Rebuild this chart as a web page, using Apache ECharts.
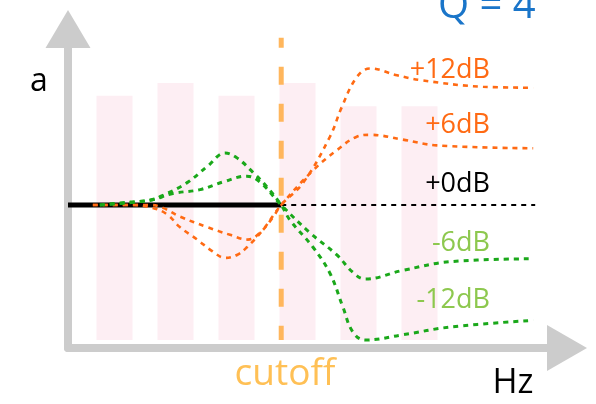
<!DOCTYPE html>
<html lang="en">
<head>
  <meta charset="UTF-8">
  <title>Q = 4 filter response</title>
  <script src="https://cdn.jsdelivr.net/npm/echarts@6/dist/echarts.min.js"></script>
  <style>
    html, body { margin: 0; padding: 0; background: #fff; }
    #main { width: 596px; height: 404px; }
  </style>
</head>
<body>
  <div id="main"></div>
<script>
  // background bands (decorative)
  let bandCats = ['b1', 'b2', 'b3', 'b4', 'b5', 'b6']
  let bandValues = [9.5, 10, 9.5, 10, 9.1, 9.1]

  // x: relative frequency (0..100), y: gain in dB
  let cutoff = 42.9
  let flatPass = [[0, 0], [42.9, 0]]
  let flatStop = [[42.9, 0], [94, 0]]
  let boost12 = [[5, 0], [13, 0], [17, -0.3], [20, -1.0], [22.5, -2.3], [26, -3.6], [29, -4.8], [31.6, -5.5],
    [34, -5.2], [36, -4.4], [39.2, -2.6], [42.9, 0], [47.3, 2.3], [52.7, 7.1], [55.1, 10.2], [58.1, 13.3],
    [60.8, 14.2], [66.2, 13.5], [70.8, 13.0], [83.5, 12.3], [93.6, 12.2]]
  let boost6 = [[5, 0], [16.5, 0], [19.1, -0.3], [22.5, -1.2], [28, -2.3], [32.6, -3.1], [36.2, -3.6],
    [38.6, -2.9], [41.2, -1.3], [42.9, 0], [49.3, 3.6], [54.1, 5.7], [58.1, 7.1], [60.8, 7.3], [67.4, 6.8],
    [74.2, 6.2], [93.6, 5.9]]
  let cut6 = [[6.4, 0], [16.5, 0.5], [21.1, 1.2], [26.6, 1.6], [31.2, 2.4], [36, 3.0], [38.6, 2.4], [42.9, 0],
    [48.7, -2.9], [54.1, -5.2], [57.3, -7.0], [59.8, -7.7], [67.4, -6.8], [76.9, -5.9], [93.6, -5.6]]
  let cut12 = [[6.4, 0], [12.5, 0.3], [16.5, 0.5], [19.1, 1.0], [23.9, 2.3], [28, 4.0], [31.6, 5.4], [34, 4.9],
    [37.2, 3.4], [40, 1.9], [42.9, 0], [44.7, -1.6], [49.3, -4.4], [52.7, -7.1], [55.3, -10.6], [57.3, -13.2],
    [59.8, -14.05], [67.4, -13.5], [76.9, -12.7], [93.6, -12.0]]
  let cutoffLine = [[cutoff, 17.4], [cutoff, -14.05]]

  let gainLabels = ['+12dB', '+6dB', '+0dB', '-6dB', '-12dB']

  initChart()

  function initChart() {
    let myChart = echarts.init(document.getElementById('main'))
    let font = '"Open Sans", "Noto Sans", sans-serif'
    let orange = '#ff6a13'
    let green = '#1aa81a'
    let lightGreen = '#8dc84e'

    function curve(data, color, width) {
      return {
        type: 'line', xAxisIndex: 0, yAxisIndex: 0, data: data, smooth: 0.4,
        symbol: 'none', z: 5, silent: true,
        lineStyle: { color: color, width: width, type: [5, 5] }
      }
    }

    function label(text, x, y, color) {
      return {
        type: 'text', x: x, y: y, z: 20,
        style: { text: text, fill: color, font: '27px ' + font, textAlign: 'right', textVerticalAlign: 'middle' }
      }
    }

    let option = {
      animation: false,
      grid: [
        { left: 68, right: 29, top: 29, bottom: 56 },
        { left: 84, right: 146, top: 83, bottom: 64 }
      ],
      xAxis: [{
        gridIndex: 0, type: 'value', min: 0, max: 100.4,
        axisLine: {
          onZero: false, symbol: ['none', 'triangle'], symbolSize: [46, 40],
          lineStyle: { color: '#cccccc', width: 8, cap: 'round' }
        },
        axisTick: { show: false }, axisLabel: { show: false }, splitLine: { show: false }
      }, {
        gridIndex: 1, type: 'category', data: bandCats, show: false
      }],
      yAxis: [{
        gridIndex: 0, type: 'value', min: -14.88, max: 18.31,
        axisLine: {
          show: true, onZero: false, symbol: ['none', 'triangle'], symbolSize: [45, 38],
          lineStyle: { color: '#cccccc', width: 8, cap: 'round' }
        },
        axisTick: { show: false }, axisLabel: { show: false }, splitLine: { show: false }
      }, {
        gridIndex: 1, type: 'value', min: 0, max: 10, show: false
      }],
      series: [{
        type: 'bar', xAxisIndex: 1, yAxisIndex: 1, data: bandValues, barWidth: 36, z: 1, silent: true,
        itemStyle: { color: '#fdeef3' }
      }, {
        type: 'line', data: cutoffLine, symbol: 'none', z: 3, silent: true,
        lineStyle: { color: '#ffb65c', width: 5, type: [18, 19], dashOffset: 8 }
      }, {
        type: 'line', data: flatPass, symbol: 'none', z: 4, silent: true,
        lineStyle: { color: '#000', width: 5 }
      }, {
        type: 'line', data: flatStop, symbol: 'none', z: 4, silent: true,
        lineStyle: { color: '#000', width: 2, type: [5, 5] }
      },
        curve(boost12, orange, 2.6),
        curve(boost6, orange, 2.6),
        curve(cut6, green, 3),
        curve(cut12, green, 3)
      ],
      graphic: [
        {
          type: 'text', x: 438, y: 7, z: 20,
          style: { text: 'Q = 4', fill: '#1a75c9', font: '40px ' + font, textAlign: 'left', textVerticalAlign: 'middle' }
        },
        label(gainLabels[0], 490, 70, orange),
        label(gainLabels[1], 490, 125, orange),
        label(gainLabels[2], 490, 184, '#000'),
        label(gainLabels[3], 490, 243, lightGreen),
        label(gainLabels[4], 490, 300, lightGreen),
        {
          type: 'text', x: 30, y: 82, z: 20,
          style: { text: 'a', fill: '#000', font: '32px ' + font, textAlign: 'left', textVerticalAlign: 'middle' }
        },
        {
          type: 'text', x: 513, y: 383, z: 20,
          style: { text: 'Hz', fill: '#000', font: '34px ' + font, textAlign: 'center', textVerticalAlign: 'middle' }
        },
        {
          type: 'text', x: 285, y: 374, z: 20,
          style: { text: 'cutoff', fill: '#ffc055', font: '37px ' + font, textAlign: 'center', textVerticalAlign: 'middle' }
        }
      ]
    }
    myChart.setOption(option)
  }
</script>
</body>
</html>
